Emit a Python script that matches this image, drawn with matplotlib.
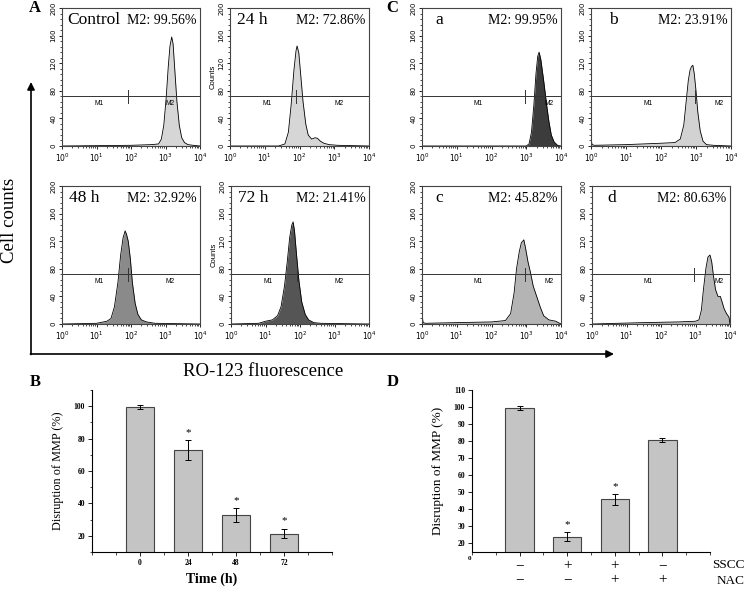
import numpy as np
import matplotlib
matplotlib.use('Agg')
from matplotlib import pyplot as plt
from matplotlib.ticker import MultipleLocator, LogLocator, NullFormatter
from matplotlib.transforms import blended_transform_factory

SERIF = ['Liberation Serif', 'DejaVu Serif']
SANS = ['Liberation Sans', 'DejaVu Sans']

# ---- histogram data (log10 fluorescence, counts) ----
ctrl_lx = [0, 2.0, 2.6, 2.8, 2.88, 2.95, 3.02, 3.08, 3.13, 3.18, 3.22, 3.27, 3.33, 3.4, 3.47, 3.55, 3.65, 3.8, 4.0]
ctrl_ct = [0, 1, 2, 3, 10, 30, 70, 115, 145, 158, 148, 110, 65, 30, 12, 5, 2, 1, 0]

h24_lx = [0, 1.4, 1.58, 1.68, 1.76, 1.84, 1.9, 1.93, 1.98, 2.04, 2.1, 2.18, 2.25, 2.35, 2.45, 2.52, 2.6, 2.7, 2.85, 3.1, 4.0]
h24_ct = [0, 0, 3, 20, 60, 110, 138, 145, 135, 100, 65, 32, 16, 10, 12, 11, 7, 4, 2, 1, 0]

h48_lx = [0, 1.0, 1.3, 1.42, 1.52, 1.62, 1.7, 1.77, 1.83, 1.87, 1.92, 1.98, 2.04, 2.12, 2.2, 2.3, 2.45, 2.7, 4.0]
h48_ct = [0, 1, 4, 8, 25, 60, 100, 125, 135, 130, 120, 95, 60, 30, 14, 6, 3, 1, 0]

h72_lx = [0, 0.8, 1.0, 1.2, 1.35, 1.45, 1.55, 1.63, 1.7, 1.76, 1.8, 1.84, 1.9, 1.97, 2.05, 2.15, 2.25, 2.4, 2.6, 4.0]
h72_ct = [0, 1, 4, 6, 12, 25, 55, 90, 125, 143, 148, 135, 100, 62, 32, 14, 6, 2, 1, 0]

a_lx = [0, 3.0, 3.08, 3.15, 3.22, 3.28, 3.33, 3.37, 3.42, 3.5, 3.58, 3.65, 3.72, 3.8, 3.9, 4.0]
a_ct = [0, 0, 3, 20, 60, 105, 130, 136, 125, 95, 62, 36, 16, 6, 1, 0]

b_lx = [0, 0.03, 0.1, 1.0, 1.5, 2.0, 2.4, 2.55, 2.65, 2.72, 2.78, 2.83, 2.87, 2.91, 2.95, 3.0, 3.05, 3.12, 3.2, 3.3, 3.5, 4.0]
b_ct = [10, 2, 1, 2, 3, 4, 5, 10, 30, 65, 95, 110, 115, 117, 105, 80, 50, 22, 7, 2, 1, 0]

c_lx = [0, 0.03, 0.1, 1.0, 2.0, 2.4, 2.55, 2.65, 2.72, 2.8, 2.86, 2.9, 2.93, 2.98, 3.05, 3.12, 3.2, 3.3, 3.4, 3.5, 3.65, 3.85, 4.0]
c_ct = [15, 2, 1, 2, 3, 5, 15, 45, 80, 105, 118, 120, 122, 110, 90, 75, 55, 40, 25, 12, 6, 4, 0]

d_lx = [0, 1.5, 2.5, 3.0, 3.1, 3.17, 3.23, 3.3, 3.36, 3.42, 3.47, 3.52, 3.58, 3.65, 3.72, 3.77, 3.83, 3.9, 3.97, 4.0]
d_ct = [0, 2, 3, 4, 6, 20, 50, 80, 97, 100, 90, 70, 50, 40, 40, 32, 22, 15, 10, 0]

hist_tags = ['Control', '24 h', '48 h', '72 h', 'a', 'b', 'c', 'd']
hist_m2 = ['M2: 99.56%', 'M2: 72.86%', 'M2: 32.92%', 'M2: 21.41%',
           'M2: 99.95%', 'M2: 23.91%', 'M2: 45.82%', 'M2: 80.63%']
gate_A = 1.9   # log10 of M1/M2 boundary, panel A
gate_C = 2.97  # panel C

# ---- bar chart data ----
b_labels = ['0', '24', '48', '72']
b_vals = [99.5, 72.9, 32.9, 21.4]
b_err = [1.3, 6.2, 4.3, 3.0]
b_star = [False, True, True, True]

d_vals = [99.5, 24.0, 45.8, 80.6]
d_err = [1.3, 2.6, 3.2, 1.0]
d_star = [False, True, True, False]
sscc = ['\u2212', '+', '+', '\u2212']
nac = ['\u2212', '\u2212', '+', '+']

W, H = 746, 590
fig = plt.figure(figsize=(W / 100, H / 100), dpi=100)


def px_axes(l, t, r, b):
    return fig.add_axes([l / W, 1 - b / H, (r - l) / W, (b - t) / H])


def draw_hist(ax, lx, ct, color, tag, m2, tag_x, gate, m1x, m2x, counts=False):
    x = 10.0 ** np.array(lx)
    ax.fill_between(x, ct, 0, color=color, lw=0)
    ax.plot(x, ct, color='k', lw=0.6)
    ax.set_xscale('log')
    ax.set_xlim(1, 1e4)
    ax.set_ylim(0, 200)
    ax.axhline(72, color='#333333', lw=0.7)
    ax.plot([10 ** gate] * 2, [63, 81], color='#333333', lw=0.7)
    ax.text(10 ** m1x, 66, 'M1', fontsize=4.8, ha='center', va='top', family=SANS)
    ax.text(10 ** m2x, 66, 'M2', fontsize=4.8, ha='center', va='top', family=SANS)
    ax.text(tag_x, 0.885, tag, transform=ax.transAxes, fontsize=12.5,
            family=SERIF, ha='left', va='baseline')
    ax.text(0.975, 0.885, m2, transform=ax.transAxes, fontsize=10,
            family=SERIF, ha='right', va='baseline')
    ax.set_yticks([0, 40, 80, 120, 160, 200])
    ax.yaxis.set_minor_locator(MultipleLocator(8))
    ax.xaxis.set_minor_locator(LogLocator(base=10, subs=range(2, 10)))
    ax.xaxis.set_minor_formatter(NullFormatter())
    ax.tick_params(axis='both', which='major', length=2.5, width=0.6, labelsize=5.5, pad=1.5)
    ax.tick_params(axis='both', which='minor', length=1.3, width=0.5)
    ax.tick_params(axis='y', labelrotation=90, labelsize=5)
    for lab in ax.get_yticklabels():
        lab.set_va('center')
    for s in ax.spines.values():
        s.set_linewidth(0.8)
        s.set_color('#444444')
    if counts:
        ax.set_ylabel('Counts', fontsize=5.5, family=SANS, labelpad=1)


boxes = [(62, 8, 200, 146), (230, 8, 369, 146), (62, 186, 200, 324), (231, 186, 369, 324),
         (422, 8, 561, 146), (591, 8, 731, 146), (422, 186, 561, 324), (592, 186, 730, 324)]
datas = [(ctrl_lx, ctrl_ct), (h24_lx, h24_ct), (h48_lx, h48_ct), (h72_lx, h72_ct),
         (a_lx, a_ct), (b_lx, b_ct), (c_lx, c_ct), (d_lx, d_ct)]
colors = ['#d6d6d6', '#d6d6d6', '#8a8a8a', '#555555', '#3c3c3c', '#d2d2d2', '#b4b4b4', '#b8b8b8']
tag_xs = [0.035, 0.05, 0.05, 0.05, 0.094, 0.13, 0.094, 0.11]

for i in range(8):
    ax = px_axes(*boxes[i])
    left = i < 4
    draw_hist(ax, datas[i][0], datas[i][1], colors[i], hist_tags[i], hist_m2[i], tag_xs[i],
              gate_A if left else gate_C,
              1.07 if left else 1.62, 3.13 if left else 3.67,
              counts=(i in (1, 3)))

# ---- bar chart B ----
axB = px_axes(92, 390, 332, 552)
pos = np.arange(1, 5)
axB.bar(pos, b_vals, width=0.6, color='#c4c4c4', edgecolor='#444444', lw=0.8, zorder=2)
axB.errorbar(pos, b_vals, yerr=b_err, fmt='none', ecolor='k', elinewidth=0.7,
             capsize=2, capthick=0.7, zorder=3)
for p, v, e, s in zip(pos, b_vals, b_err, b_star):
    if s:
        axB.text(p, v + e + 2, '*', ha='center', va='bottom', fontsize=8, family=SERIF)
axB.set_xlim(0, 5)
axB.set_ylim(10, 110)
axB.set_xticks(pos)
axB.set_xticklabels(b_labels)
axB.xaxis.set_minor_locator(MultipleLocator(0.5))
axB.set_yticks([20, 40, 60, 80, 100])
axB.yaxis.set_minor_locator(MultipleLocator(10))
axB.set_ylabel('Disruption of MMP (%)', fontsize=8.8, family=SERIF, labelpad=7)
axB.set_xlabel('Time (h)', fontsize=10, family=SERIF, fontweight='bold', labelpad=4)

# ---- bar chart D ----
axD = px_axes(472, 390, 710, 552)
axD.bar(pos, d_vals, width=0.6, color='#c4c4c4', edgecolor='#444444', lw=0.8, zorder=2)
axD.errorbar(pos, d_vals, yerr=d_err, fmt='none', ecolor='k', elinewidth=0.7,
             capsize=2, capthick=0.7, zorder=3)
for p, v, e, s in zip(pos, d_vals, d_err, d_star):
    if s:
        axD.text(p, v + e + 2, '*', ha='center', va='bottom', fontsize=8, family=SERIF)
axD.set_xlim(0, 5)
axD.set_ylim(15, 110)
axD.set_xticks(pos)
axD.set_xticklabels([])
axD.xaxis.set_minor_locator(MultipleLocator(0.5))
axD.set_yticks(range(20, 111, 10))
axD.set_ylabel('Disruption of MMP (%)', fontsize=9.5, family=SERIF, labelpad=7)
tr = blended_transform_factory(axD.transData, fig.transFigure)
for p, s1, s2 in zip(pos, sscc, nac):
    axD.text(p, 1 - 566 / H, s1, transform=tr, ha='center', va='center', fontsize=11, family=SERIF)
    axD.text(p, 1 - 580 / H, s2, transform=tr, ha='center', va='center', fontsize=11, family=SERIF)
fig.text(745 / W, 1 - 565 / H, 'SSCC', ha='right', va='center', fontsize=9.5, family=SERIF)
fig.text(745 / W, 1 - 581 / H, 'NAC', ha='right', va='center', fontsize=9.5, family=SERIF)
fig.text(469 / W, 1 - 558 / H, '0', ha='center', va='center', fontsize=5, family=SERIF,
         fontweight='bold')

for ax in (axB, axD):
    ax.spines['top'].set_visible(False)
    ax.spines['right'].set_visible(False)
    for s in ax.spines.values():
        s.set_linewidth(0.8)
    ax.tick_params(axis='both', which='major', length=3, width=0.6, labelsize=5.5, pad=2)
    ax.tick_params(axis='both', which='minor', length=1.8, width=0.5)
    for lab in ax.get_xticklabels() + ax.get_yticklabels():
        lab.set_family(SERIF)
        lab.set_fontweight('bold')

# ---- overlay: arrows, big labels, panel letters ----
ov = fig.add_axes([0, 0, 1, 1])
ov.set_xlim(0, W)
ov.set_ylim(H, 0)
ov.axis('off')
ov.patch.set_visible(False)
ov.annotate('', xy=(31, 82), xytext=(31, 354.5),
            arrowprops=dict(arrowstyle='-|>', color='k', lw=1.2, mutation_scale=11, shrinkA=0, shrinkB=0))
ov.annotate('', xy=(614, 354), xytext=(30.4, 354),
            arrowprops=dict(arrowstyle='-|>', color='k', lw=1.2, mutation_scale=11, shrinkA=0, shrinkB=0))

fig.text(10 / W, 1 - 220 / H, 'Cell counts', rotation=90, ha='center', va='center',
         fontsize=13.5, family=SERIF)
fig.text(263 / W, 1 - 372 / H, 'RO-123 fluorescence', ha='center', va='center',
         fontsize=13.5, family=SERIF)
for lab, x, y in [('A', 35, 8), ('C', 392, 8), ('B', 35, 382), ('D', 393, 382)]:
    fig.text(x / W, 1 - y / H, lab, ha='center', va='center', fontsize=12,
             family=SERIF, fontweight='bold')

fig.savefig('out.png', dpi=100)
